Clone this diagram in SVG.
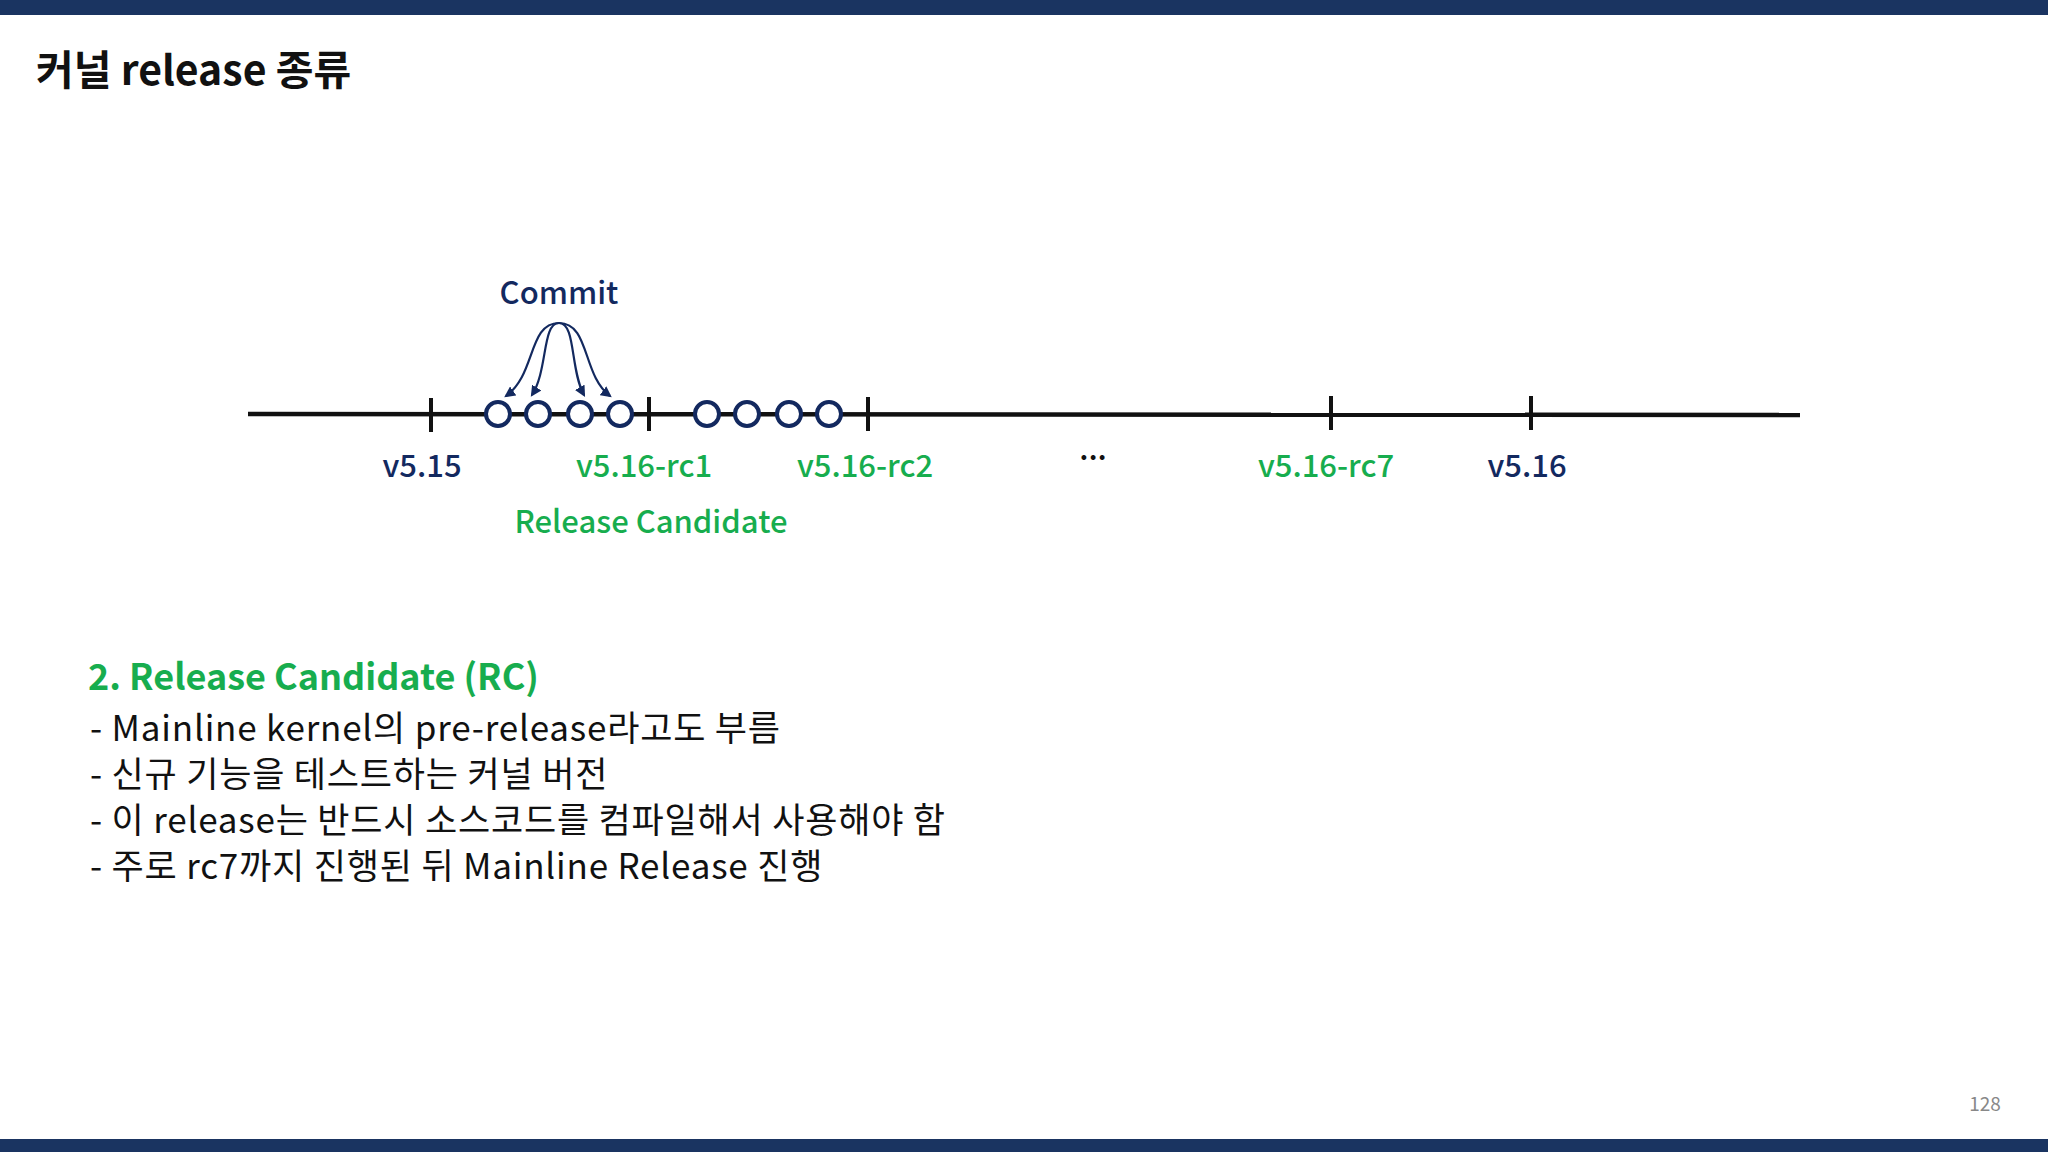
<svg xmlns="http://www.w3.org/2000/svg" width="2048" height="1152" viewBox="0 0 2048 1152">
<style>
text{font-family:"Noto Sans CJK KR","Noto Sans",sans-serif}
.navy{fill:#13295f}.green{fill:#17ad4e}
.lbl{font-size:31px;text-anchor:middle;font-weight:500}
.body{font-size:35px;fill:#111;letter-spacing:0.8px}
.tick{stroke:#111;stroke-width:4}
.c{fill:#fff;stroke:#13295f;stroke-width:4}
.arr{fill:none;stroke:#13295f;stroke-width:2.2;marker-end:url(#ah)}
</style>
<defs><marker id="ah" viewBox="0 0 10 10" refX="8" refY="5" markerWidth="5" markerHeight="5" orient="auto"><path d="M0,0L10,5L0,10z" fill="#13295f"/></marker></defs>
<rect width="2048" height="1152" fill="#fff"/>
<rect width="2048" height="15" fill="#1a3461"/>
<rect y="1139" width="2048" height="13" fill="#1a3461"/>
<text x="36" y="85" font-size="41" font-weight="700" fill="#111">커널 release 종류</text>
<g id="connectors">
<line x1="248" y1="414" x2="1800" y2="415" stroke="#111" stroke-width="4.5"/>
<line class="tick" x1="431" y1="398" x2="431" y2="432"/>
<line class="tick" x1="649" y1="397" x2="649" y2="431"/>
<line class="tick" x1="868" y1="397" x2="868" y2="431"/>
<line class="tick" x1="1331" y1="396" x2="1331" y2="430"/>
<line class="tick" x1="1531" y1="396" x2="1531" y2="430"/>
<path class="arr" d="M559,323 C528,323 536,375 506,396"/>
<path class="arr" d="M559,323 C542,323 548,370 532,395"/>
<path class="arr" d="M559,323 C576,323 570,370 584,395"/>
<path class="arr" d="M559,323 C590,323 582,375 610,396"/>
</g>
<g id="commits">
<circle class="c" cx="498" cy="414" r="12"/><circle class="c" cx="538" cy="414" r="12"/>
<circle class="c" cx="580" cy="414" r="12"/><circle class="c" cx="620" cy="414" r="12"/>
<circle class="c" cx="707" cy="414" r="12"/><circle class="c" cx="747" cy="414" r="12"/>
<circle class="c" cx="789" cy="414" r="12"/><circle class="c" cx="829" cy="414" r="12"/>
</g>
<g id="labels">
<text class="lbl navy" x="559" y="304" font-size="29">Commit</text>
<text class="lbl navy" x="422" y="477">v5.15</text>
<text class="lbl green" x="644" y="477">v5.16-rc1</text>
<text class="lbl green" x="865" y="477">v5.16-rc2</text>
<text class="lbl" x="1093" y="460" fill="#111">...</text>
<text class="lbl green" x="1326" y="477">v5.16-rc7</text>
<text class="lbl navy" x="1527" y="477">v5.16</text>
<text class="lbl green" x="651" y="533" font-size="29">Release Candidate</text>
</g>
<g id="body">
<text class="green" x="88" y="690" font-size="36" font-weight="600">2. Release Candidate (RC)</text>
<text class="body" x="90" y="741">- Mainline kernel의 pre-release라고도 부름</text>
<text class="body" x="90" y="787">- 신규 기능을 테스트하는 커널 버전</text>
<text class="body" x="90" y="833">- 이 release는 반드시 소스코드를 컴파일해서 사용해야 함</text>
<text class="body" x="90" y="879">- 주로 rc7까지 진행된 뒤 Mainline Release 진행</text>
</g>
<text x="1985" y="1111" font-size="19" fill="#888" text-anchor="middle">128</text>
</svg>
